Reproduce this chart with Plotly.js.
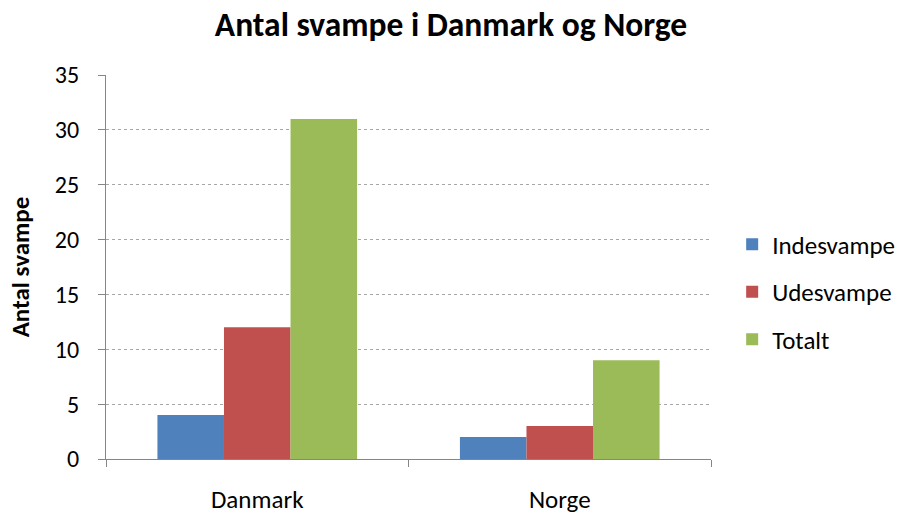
<!DOCTYPE html>
<html>
<head>
<meta charset="utf-8">
<script src="https://cdn.plot.ly/plotly-3.0.1.min.js"></script>
<style>html,body{margin:0;padding:0;background:#fff;}#chart{width:902px;height:516px;}</style>
</head>
<body>
<div id="chart"></div>
<script>
const categories = ["Danmark", "Norge"];
const seriesNames = ["Indesvampe", "Udesvampe", "Totalt"];
const indesvampe = [4, 2];
const udesvampe = [12, 3];
const totalt = [31, 9];
const yTicks = [0, 5, 10, 15, 20, 25, 30, 35];

const colors = ["#4F81BD", "#C0504D", "#9BBB59"];
const values = [indesvampe, udesvampe, totalt];
const font = "Carlito, 'Open Sans', 'Liberation Sans', sans-serif";

const traces = values.map((v, i) => ({
  type: "bar",
  name: seriesNames[i],
  x: categories,
  y: v,
  marker: {color: colors[i], line: {width: 0}},
  legendgroup: "g" + i,
  hoverinfo: "x+y+name"
}));

const layout = {
  width: 902, height: 516,
  margin: {l: 106, r: 191, t: 75, b: 57, autoexpand: false},
  paper_bgcolor: "#fff", plot_bgcolor: "#fff",
  font: {family: font, size: 24, color: "#000"},
  title: {text: "<b>Antal svampe i Danmark og Norge</b>", font: {family: font, size: 33.5, color: "#000"}, x: 0.5, xanchor: "center", y: 0.953, yanchor: "middle"},
  barmode: "group",
  bargap: 0.34,
  bargroupgap: 0,
  xaxis: {
    type: "category",
    tickson: "boundaries",
    ticks: "outside", ticklen: 7, tickcolor: "#868686", tickwidth: 1,
    showline: true, linecolor: "#868686", linewidth: 1,
    showgrid: false,
    tickfont: {family: font, size: 25},
    ticklabelstandoff: 18,
    fixedrange: true
  },
  yaxis: {
    range: [0, 35],
    tickvals: yTicks,
    ticks: "outside", ticklen: 7, tickcolor: "#868686", tickwidth: 1,
    showline: true, linecolor: "#868686", linewidth: 1,
    showgrid: true, gridcolor: "#a6a6a6", griddash: "dot", gridwidth: 1,
    zeroline: false,
    tickfont: {family: font, size: 24},
    ticklabelstandoff: 14,
    title: {text: "<b>Antal svampe</b>", font: {family: font, size: 25}, standoff: 18},
    fixedrange: true
  },
  legend: {
    x: 1.035, xanchor: "left", y: 0.435, yanchor: "middle",
    font: {family: font, size: 25},
    traceorder: "grouped", tracegroupgap: 12,
    itemwidth: 30
  },
  showlegend: true
};

Plotly.newPlot("chart", traces, layout, {displayModeBar: false, staticPlot: true});
</script>
</body>
</html>
